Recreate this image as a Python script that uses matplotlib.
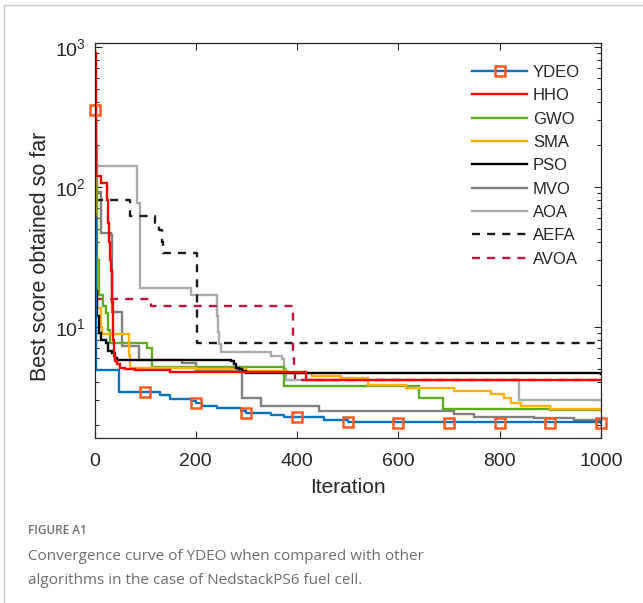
import numpy as np
import matplotlib
matplotlib.use("Agg")
import matplotlib.pyplot as plt
from matplotlib.lines import Line2D
from matplotlib.patches import Rectangle

plt.rcParams["font.family"] = ["Liberation Sans", "DejaVu Sans"]
plt.rcParams["mathtext.fontset"] = "custom"
plt.rcParams["mathtext.rm"] = "Liberation Sans"
plt.rcParams["mathtext.it"] = "Liberation Sans"
plt.rcParams["mathtext.bf"] = "Liberation Sans"

# ---- data (iteration breakpoints, best score) ----
ydeo_it = [0, 1, 2, 48, 130, 150, 190, 200, 212, 242, 290, 300, 348, 374, 453, 500, 559, 1000]
ydeo_v = [355, 60, 4.93, 3.42, 3.26, 3.05, 2.95, 2.86, 2.73, 2.63, 2.5, 2.43, 2.36, 2.28, 2.17, 2.1, 2.07, 2.05]
ydeo_mk_it = [0, 100, 200, 300, 400, 500, 600, 700, 800, 900, 1000]
ydeo_mk_v = [355, 3.42, 2.86, 2.43, 2.27, 2.1, 2.06, 2.06, 2.05, 2.05, 2.05]

hho_it = [0, 2, 3, 12, 22, 24, 26, 28, 30, 32, 34, 35, 36, 37, 38, 40, 45, 51, 60, 80, 150, 417, 1000]
hho_v = [900, 300, 120, 107, 107, 80, 55, 40, 30, 25, 20, 15, 11, 8, 6.2, 5.65, 5.4, 5.1, 4.95, 4.88, 4.73, 4.15, 4.15]

gwo_it = [0, 1, 2, 4, 8, 16, 22, 26, 30, 104, 114, 374, 640, 688, 900, 1000]
gwo_v = [700, 300, 100, 30, 16.9, 14, 12.6, 9.5, 7.7, 7.06, 5.15, 3.75, 3.1, 2.58, 2.55, 2.5]

sma_it = [0, 1, 2, 3, 4, 12, 13, 15, 67, 69, 71, 200, 300, 380, 430, 486, 540, 615, 710, 782, 808, 822, 842, 900, 1000]
sma_v = [1070, 500, 100, 30, 13.7, 13.7, 10, 8.8, 8.8, 6.3, 5.07, 4.95, 4.85, 4.7, 4.45, 4.33, 3.85, 3.66, 3.5, 3.33, 3.1, 2.85, 2.7, 2.6, 2.52]

pso_it = [0, 1, 2, 3, 5, 8, 12, 22, 26, 35, 40, 45, 269, 275, 280, 286, 292, 300, 1000]
pso_v = [180, 60, 30, 18, 12, 9, 8.0, 7.6, 6.66, 6.5, 6.0, 5.8, 5.7, 5.4, 5.1, 4.95, 4.8, 4.68, 4.63]

mvo_it = [0, 1, 2, 4, 13, 32, 34, 55, 88, 173, 200, 292, 328, 443, 710, 750, 867, 947, 1000]
mvo_v = [516, 300, 200, 91, 47, 45, 12.8, 7.26, 5.8, 5.5, 4.93, 3.1, 2.7, 2.52, 2.39, 2.28, 2.22, 2.17, 2.17]

aoa_it = [0, 1, 2, 84, 89, 191, 242, 244, 246, 250, 252, 348, 370, 375, 379, 838, 1000]
aoa_v = [600, 300, 140, 76.5, 18.8, 16.9, 12, 9.1, 7.5, 6.6, 6.55, 6.13, 5.9, 5.0, 4.18, 2.98, 2.98]

aefa_it = [0, 71, 120, 128, 134, 136, 203, 1000]
aefa_v = [80, 61.4, 55, 49.3, 40, 33.6, 7.6, 7.6]

avoa_it = [0, 111, 391, 392, 393, 395, 1000]
avoa_v = [15.8, 14.0, 10, 6, 5, 4.18, 4.15]

x_ticks = [0, 200, 400, 600, 800, 1000]

# ---- styles ----
c_ydeo = "#0072BD"
c_mark = "#FF5A1F"
lw = 1.7
txt = "#262626"

fig = plt.figure(figsize=(6.43, 6.03), dpi=100)
fig.patch.set_facecolor("white")
fig.patches.append(Rectangle((4.3 / 643, -0.1), 1.2, 1 - 5 / 603 + 0.1,
                             transform=fig.transFigure, facecolor="none",
                             edgecolor="#c8c8c8", linewidth=1.0))

ax = fig.add_axes([94.5 / 643, 1 - 437.5 / 603, (601 - 94.5) / 643, (437.5 - 43.3) / 603])

series = [
    ("AOA", aoa_it, aoa_v, "#ABABAB", "-"),
    ("MVO", mvo_it, mvo_v, "#808080", "-"),
    ("AEFA", aefa_it, aefa_v, "#1A1A1A", "--"),
    ("AVOA", avoa_it, avoa_v, "#C0143C", "--"),
    ("GWO", gwo_it, gwo_v, "#5DAE1E", "-"),
    ("SMA", sma_it, sma_v, "#FFB100", "-"),
    ("PSO", pso_it, pso_v, "#000000", "-"),
    ("HHO", hho_it, hho_v, "#FF0000", "-"),
]
handles = {}
for name, it, v, col, ls in series:
    kw = dict(color=col, lw=lw, drawstyle="steps-post", solid_joinstyle="miter")
    if ls == "--":
        kw["dashes"] = (3.4, 3.0)
    h, = ax.plot(it, v, **kw)
    handles[name] = h

ax.plot(ydeo_it, ydeo_v, color=c_ydeo, lw=lw, drawstyle="steps-post")
ax.plot(ydeo_mk_it, ydeo_mk_v, ls="none", marker="s", ms=7.5, mfc="none",
        mec=c_mark, mew=1.8, clip_on=False)
handles["YDEO"] = Line2D([], [], color=c_ydeo, lw=lw, marker="s", ms=7.5,
                         mfc="none", mec=c_mark, mew=1.8)

ax.set_yscale("log")
ax.set_xlim(0, 1000)
ax.set_ylim(1.617, 1057)
ax.set_xticks(x_ticks)
ax.set_xticklabels([str(t) for t in x_ticks])

ax.tick_params(which="both", direction="in", top=True, right=True, labelsize=14,
               colors=txt, width=0.8)
ax.tick_params(which="major", length=5)
ax.tick_params(which="minor", length=3)
ax.tick_params(axis="x", pad=11)
ax.tick_params(axis="y", pad=6)
for s in ax.spines.values():
    s.set_linewidth(0.9)
    s.set_color(txt)

ax.set_xlabel("Iteration", fontsize=15, color=txt, labelpad=6)
ax.set_ylabel("Best score obtained so far", fontsize=15.5, color=txt)
ax.yaxis.set_label_coords(-(94.5 - 51) / (601 - 94.5), (437.5 - 256) / (437.5 - 43.3))

order = ["YDEO", "HHO", "GWO", "SMA", "PSO", "MVO", "AOA", "AEFA", "AVOA"]
leg = ax.legend([handles[k] for k in order], order, loc="upper left",
                bbox_to_anchor=((472 - 94.5) / (601 - 94.5), 1 - (65 - 43.3) / (437.5 - 43.3)),
                frameon=False, fontsize=12, handlelength=3.3, handletextpad=0.35,
                labelspacing=0.5, borderaxespad=0, borderpad=0)
for t in leg.get_texts():
    t.set_color(txt)

cap_col = "#6e6e6e"
fig.text(28 / 643, 1 - 531 / 603, "FIGURE A1", fontsize=8.5, color=cap_col,
         family="Open Sans", weight="semibold", va="center")
fig.text(28 / 643, 1 - 556 / 603, "Convergence curve of YDEO when compared with other",
         fontsize=11, color=cap_col, family="Open Sans", va="center")
fig.text(28 / 643, 1 - 580 / 603, "algorithms in the case of NedstackPS6 fuel cell.",
         fontsize=11, color=cap_col, family="Open Sans", va="center")

fig.savefig("out.png", dpi=100)
